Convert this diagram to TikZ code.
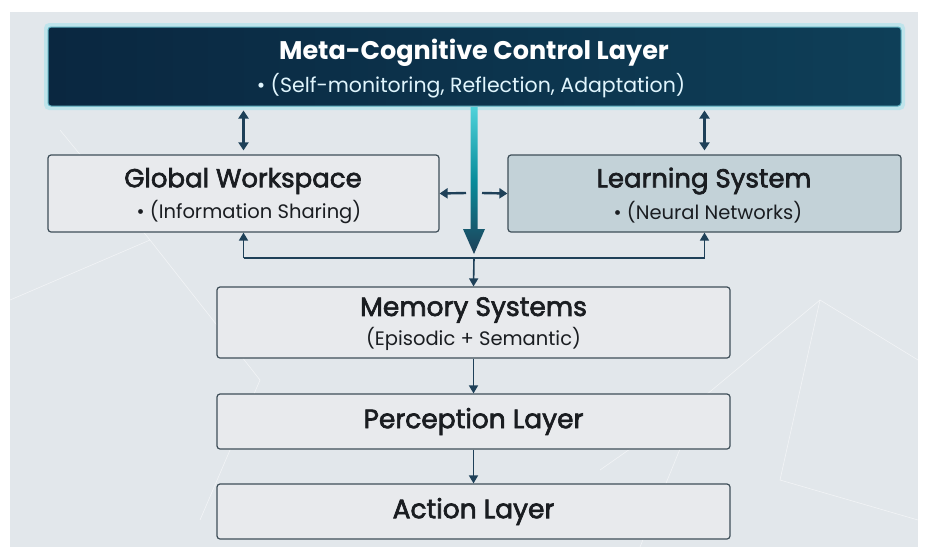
\documentclass[tikz,border=0pt]{standalone}
\usepackage{fontspec}
\setmainfont{Poppins}
\newfontfamily\medfont[BoldFont={Poppins},BoldFeatures={FakeBold=2.5}]{Poppins}
\usetikzlibrary{arrows.meta,calc}
\definecolor{panel}{HTML}{E2E7EB}
\definecolor{navyL}{HTML}{0A2740}
\definecolor{navyR}{HTML}{0E3F58}
\definecolor{boxfill}{HTML}{E8EAED}
\definecolor{lsfill}{HTML}{C3D2D8}
\definecolor{edge}{HTML}{3E4E58}
\definecolor{arr}{HTML}{1E4058}
\definecolor{txt}{HTML}{1A1D21}
\definecolor{glow}{HTML}{7FE0EC}
\tikzset{
  x=1pt,y=-1pt,
  layerbox/.style={draw=edge,line width=1.2pt,rounded corners=3pt,fill=boxfill,text=txt,align=center,inner sep=0pt},
  conn/.style={draw=arr,line width=1.6pt,-{Triangle[width=9pt,length=8pt]}},
  dconn/.style={draw=arr,line width=2.4pt,{Triangle[width=10pt,length=8pt]}-{Triangle[width=10pt,length=8pt]}},
  hconn/.style={draw=arr,line width=2.4pt,-{Triangle[width=10pt,length=8pt]}},
  ttl/.style={text=txt,font=\medfont\bfseries\fontsize{26}{30}\selectfont},
  sub/.style={text=txt,font=\fontsize{19.5}{23}\selectfont},
}
\begin{document}
\begin{tikzpicture}
\useasboundingbox (0,0) rectangle (932,547);
\fill[white] (0,0) rectangle (932,547);
\fill[panel] (10,12) rectangle (918,547);
% faint network texture
\begin{scope}[white,opacity=0.55,line width=0.6pt]
\draw (10,300) -- (150,240) -- (260,380) -- (200,520);
\draw (150,240) -- (60,130);
\draw (700,400) -- (820,300) -- (918,360);
\draw (820,300) -- (780,480) -- (918,520);
\draw (600,470) -- (700,400) -- (640,547);
\end{scope}
% top box with glow
\fill[glow,opacity=0.35,rounded corners=5pt] (44,23) rectangle (905,110);
\node[draw=glow!70!navyR,line width=1pt,rounded corners=3pt,left color=navyL,right color=navyR,
      minimum width=853pt,minimum height=79pt,inner sep=0pt] (meta) at (474.5,66.5) {};
\node[text=white,font=\bfseries\fontsize{25.5}{29}\selectfont] (metat) at (474,53) {Meta-Cognitive Control Layer};
\node[text=white!88!cyan,font=\fontsize{20.5}{24}\selectfont] (metas) at (471,86) {• (Self-monitoring, Reflection, Adaptation)};
% second row
\node[layerbox,minimum width=391pt,minimum height=77pt] (gw) at (243.5,193.5) {};
\node[ttl] at (243,181) {Global Workspace};
\node[sub] at (249,212) {• (Information Sharing)};
\node[layerbox,fill=lsfill,minimum width=393pt,minimum height=77pt] (ls) at (704.5,193.5) {};
\node[ttl] at (704,181) {Learning System};
\node[sub] at (708,212) {• (Neural Networks)};
% lower column
\node[layerbox,minimum width=513pt,minimum height=71pt] (mem) at (473.5,322.5) {};
\node[ttl,font=\medfont\bfseries\fontsize{26.5}{30}\selectfont] at (473.5,310) {Memory Systems};
\node[sub] at (473.5,339) {(Episodic + Semantic)};
\node[layerbox,minimum width=513pt,minimum height=55pt,ttl,font=\medfont\bfseries\fontsize{26.5}{30}\selectfont] (perc) at (473.5,421.5) {Perception Layer};
\node[layerbox,minimum width=513pt,minimum height=55pt,ttl,font=\medfont\bfseries\fontsize{26.5}{30}\selectfont] (act) at (473.5,511.5) {Action Layer};
% double arrows
\draw[dconn] ($(meta.south -| gw.north)+(0,4)$) -- ($(gw.north)+(0,-4)$);
\draw[dconn] ($(meta.south -| ls.north)+(0,4)$) -- ($(ls.north)+(0,-4)$);
% central thick arrow
\shade[top color=glow!70!cyan!90!black,bottom color=arr,middle color=navyR!60!cyan]
  (470.5,107) -- (477.5,107) -- (477.5,229) -- (485,229) -- (474,254) -- (463,229) -- (470.5,229) -- cycle;
% horizontal arrows
\draw[hconn] (466,193) -- (gw.east);
\draw[hconn] (482,193) -- (ls.west);
% bus
\coordinate (busL) at (gw.south |- 0,258);
\coordinate (busR) at (ls.south |- 0,258);
\draw[draw=arr,line width=1.6pt] (busL) -- (busR);
\draw[conn] (busL) -- (gw.south);
\draw[conn] (busR) -- (ls.south);
\draw[conn] (474,258) -- (mem.north);
\draw[conn] (mem.south) -- (perc.north);
\draw[conn] (perc.south) -- (act.north);
\end{tikzpicture}
\end{document}
